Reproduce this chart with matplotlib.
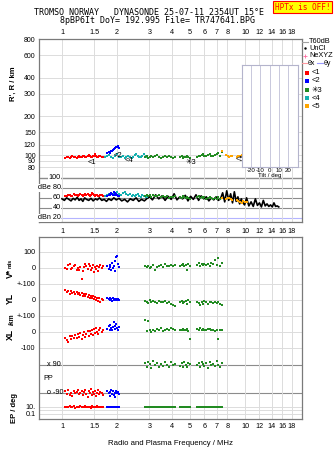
import matplotlib
matplotlib.use('Agg')
import matplotlib.pyplot as plt
import numpy as np

# ---- values ----
freq_ticks = [1, 1.5, 2, 3, 4, 5, 6, 7, 8, 10, 12, 14, 16, 18]
freq_labels = ['1', '1.5', '2', '3', '4', '5', '6', '7', '8', '10', '12', '14', '16', '18']
height_ticks = [80, 90, 100, 120, 150, 200, 300, 400, 600, 800]
db_ticks = [100, 80, 60, 40, 20]
db_labels = ['100', 'dBe 80', '60', '40', 'dBn 20']
tilt_ticks = [-20, -10, 0, 10, 20]

# echo group <1 (red)
red_f = [1.04, 1.06, 1.08, 1.10, 1.12, 1.14, 1.16, 1.18, 1.20, 1.22,
         1.24, 1.26, 1.28, 1.30, 1.32, 1.34, 1.36, 1.38, 1.40, 1.42,
         1.44, 1.46, 1.48, 1.50, 1.52, 1.54, 1.56, 1.58, 1.60, 1.62, 1.65, 1.68]
red_h = [94, 96, 97, 95, 96, 98, 97, 96, 95, 97, 98, 97, 96, 99, 98, 97, 96, 98, 100, 99,
         97, 96, 98, 99, 101, 98, 97, 96, 98, 99, 97, 96]
red_db = [63, 64, 66, 65, 63, 64, 67, 65, 66, 64, 65, 67, 66, 64, 65, 68, 66, 67, 65, 64,
          66, 69, 67, 65, 64, 66, 65, 63, 64, 66, 65, 63]
red_vs = [2, -5, 18, 25, -8, -3, 12, 20, -10, 0, -15, 8, -70, -20, 5, 28, 15, -6, 22, 10,
          -12, 3, 18, -25, 8, -4, 14, -18, 6, 20, -2, 10]
red_yl = [62, 48, 58, 40, 55, 45, 50, 38, 52, 35, 45, 30, 42, 28, 40, 22, 35, 18, 32, 15,
          28, 10, 25, 5, 20, 0, 15, -5, 12, -10, 5, -2]
red_xl = [-35, -50, -60, -28, -45, -22, -40, -18, -35, -12, -30, -8, -42, -20, -2, -32, -10, 5, -22, 8,
          -10, 12, -18, 18, -5, 22, 2, -12, 15, 25, -3, 10]
red_pp = [-80, -95, -70, -100, -88, -110, -75, -92, -85, -68, -98, -90, -78, -105, -86, -72, -95, -115, -80, -90,
          -65, -100, -84, -94, -76, -108, -88, -70, -96, -82, -90, -100]
red_ep = [10, 12, 8, 15, 9, 11, 20, 7, 13, 10, 9, 14, 11, 8, 12, 18, 10, 9, 13, 11,
          7, 15, 10, 12, 9, 11, 16, 8, 10, 13, 9, 11]

# echo group <2 (blue)
blue_f = [1.77, 1.80, 1.82, 1.84, 1.86, 1.88, 1.90, 1.92, 1.94, 1.96, 1.98, 2.00, 2.02, 2.05]
blue_h = [104, 105, 103, 106, 108, 107, 110, 112, 114, 113, 116, 115, 117, 114]
blue_db = [64, 66, 65, 67, 70, 68, 66, 72, 69, 65, 67, 66, 64, 63]
blue_vs = [10, -5, 20, 5, -15, 30, 0, 15, -20, 45, 70, 75, 25, 8]
blue_yl = [10, 5, 15, 0, 8, -5, 12, 2, 6, -3, 8, 0, 4, -2]
blue_xl = [20, 35, 10, 45, 25, 15, 30, 60, 40, 20, 50, 25, 10, 30]
blue_pp = [-75, -90, -110, -85, -70, -95, -80, -100, -88, -115, -78, -92, -85, -96]
blue_ep = [10, 9, 11, 10, 12, 9, 10, 11, 10, 9, 10, 11, 10, 9]

# echo group <4 (cyan) - heights and amplitude only
cyan_f = [1.72, 1.76, 1.80, 1.85, 1.90, 1.95, 2.00, 2.05, 2.10, 2.15,
          2.20, 2.25, 2.30, 2.35, 2.40, 2.45, 2.50, 2.55, 2.60, 2.65,
          2.70, 2.75, 2.80, 2.86, 2.92]
cyan_h = [96, 98, 100, 97, 95, 99, 101, 97, 96, 98, 95, 97, 99, 96, 94, 97, 100, 102, 98, 96,
          97, 99, 101, 98, 96]
cyan_db = [64, 66, 68, 70, 67, 69, 72, 68, 66, 70, 71, 67, 65, 68, 64, 66, 63, 65, 67, 64,
           62, 65, 63, 61, 62]

# echo group *3 (green)
green_f = [2.84, 2.90, 2.96, 3.02, 3.08, 3.15, 3.22, 3.30, 3.38, 3.46, 3.55, 3.65, 3.75, 3.85, 3.95, 4.05, 4.12,
           4.42, 4.50, 4.58, 4.66, 4.74, 4.82, 4.90, 4.98,
           5.50, 5.60, 5.70, 5.80, 5.90, 6.00, 6.12, 6.25, 6.40, 6.55, 6.70, 6.85, 7.00, 7.15, 7.30, 7.45]
green_h = [96, 98, 95, 97, 99, 96, 98, 100, 97, 95, 96, 98, 97, 99, 96, 95, 97,
           96, 98, 95, 97, 96, 98, 97, 95,
           97, 99, 98, 100, 101, 99, 98, 100, 102, 99, 98, 100, 101, 103, 99, 106]
green_db = [64, 66, 63, 65, 62, 66, 64, 63, 65, 61, 64, 62, 63, 60, 62, 61, 63,
            62, 60, 63, 61, 59, 62, 60, 58,
            61, 63, 60, 62, 59, 61, 58, 60, 62, 59, 57, 60, 58, 61, 57, 59]
green_vs = [10, 5, 15, 0, 8, 20, -15, 5, 12, 18, 8, 25, 15, 10, 20, 12, 18,
            15, 20, 25, 10, 18, -12, 22, 15,
            20, 30, 15, 25, 20, 28, 18, 22, 15, 30, 25, 48, 20, 65, 10, 30]
green_yl = [-5, -10, -20, 0, -15, -8, -12, -18, -5, -10, -15, -8, -20, -12, -25, -30, -40,
            -10, -5, -20, -15, -8, -25, -2, -12,
            -10, -20, -30, -15, -25, -5, -12, -28, -10, -15, -18, -12, -20, -15, -25, -30]
green_xl = [75, 5, 70, 10, 0, 15, 5, 20, 10, 25, 8, 15, 20, 12, 25, 18, 10,
            15, 10, 20, 15, 10, 20, 5, -42,
            20, 15, 25, 10, 20, 15, 10, 20, 18, 10, 15, 5, 12, -42, 10, 15]
green_pp = [100, 80, 110, 95, 70, 115, 88, 105, 75, 98, 85, 112, 92, 78, 108, 90, 96,
            85, 100, 75, 110, 92, 80, 105, 95,
            88, 102, 78, 110, 95, 85, 100, 72, 108, 90, 98, 82, 115, 92, 78, 105]
green_ep = [10, 9, 11, 10, 12, 9, 10, 11, 8, 10, 12, 9, 10, 11, 10, 9, 11,
            10, 11, 9, 10, 12, 10, 9, 10,
            10, 9, 11, 10, 10, 12, 9, 10, 11, 10, 9, 10, 11, 10, 12, 10]

# echo group <5 (orange)
orange_f = [7.45, 7.9, 8.05, 8.2, 8.35, 8.5, 9.0, 9.2, 9.4, 9.6, 9.8, 10.0, 10.2]
orange_h = [107, 100, 98, 97, 99, 98, 97, 99, 98, 100, 97, 99, 101]
orange_db = [60, 58, 60, 59, 57, 56, 55, 54, 52, 50, 53, 51, 52]

# receiver amplitude trace (black)
amp_f = [1.00, 1.03, 1.06, 1.09, 1.12, 1.15, 1.18, 1.21, 1.24, 1.27,
         1.30, 1.33, 1.36, 1.40, 1.44, 1.48, 1.52, 1.56, 1.60, 1.65,
         1.70, 1.75, 1.80, 1.86, 1.92, 1.98, 2.05, 2.12, 2.20, 2.28,
         2.36, 2.45, 2.54, 2.63, 2.72, 2.82, 2.92, 3.02, 3.12, 3.25,
         3.38, 3.52, 3.66, 3.80, 3.95, 4.10, 4.25, 4.40, 4.56, 4.72,
         4.88, 5.05, 5.22, 5.40, 5.58, 5.76, 5.95, 6.15, 6.35, 6.55,
         6.75, 6.95, 7.15, 7.35, 7.55, 7.75, 7.95, 8.15, 8.35, 8.55,
         8.75, 8.95, 9.15, 9.35, 9.55, 9.75, 9.95, 10.2, 10.5, 10.8,
         11.1, 11.4, 11.7, 12.0, 12.3, 12.6, 12.9, 13.2, 13.5, 13.8,
         14.1, 14.4, 14.7, 15.0, 15.3]
amp_db = [58, 55, 60, 57, 54, 59, 56, 61, 55, 58,
          53, 60, 57, 55, 59, 54, 58, 56, 60, 55,
          57, 53, 58, 55, 60, 56, 59, 54, 57, 52,
          58, 55, 60, 53, 57, 54, 59, 62, 56, 66,
          58, 64, 55, 63, 57, 68, 56, 62, 58, 65,
          54, 63, 57, 66, 55, 64, 58, 62, 54, 60,
          56, 62, 55, 58, 70, 52, 74, 55, 68, 50,
          72, 53, 62, 48, 58, 50, 46, 60, 44, 52,
          43, 58, 45, 50, 42, 55, 44, 48, 43, 46,
          42, 50, 43, 44, 42]

RED, BLUE, GREEN, CYAN, ORANGE = '#ff0000', '#0000ff', '#228b22', '#14b0b0', '#ffa500'
GRID = '#dcdcdc'
SPINE = '#7a7a7a'

W, H = 335, 451
plt.rcParams['font.family'] = ['Liberation Sans', 'DejaVu Sans']
plt.rcParams['font.size'] = 5.2
fig = plt.figure(figsize=(W / 100, H / 100), dpi=100)


def rect(x0, y0, x1, y1):
    # pixel box -> figure fraction
    return [x0 / W, 1 - y1 / H, (x1 - x0) / W, (y1 - y0) / H]


def freq_axis(ax):
    ax.set_xscale('log')
    ax.set_xlim(0.7485, 20.5)
    ax.set_xticks(freq_ticks, freq_labels)
    ax.xaxis.set_minor_locator(matplotlib.ticker.NullLocator())
    ax.grid(axis='x', color=GRID, lw=0.7)
    ax.tick_params(length=0, labelsize=5.2)
    for s in ax.spines.values():
        s.set_color(SPINE)
        s.set_linewidth(0.9)


def dots(ax, f, v, c):
    ax.plot(f, v, 's', ms=2.0, mew=0, color=c, zorder=3)


# ---- height panel ----
ax_h = fig.add_axes(rect(39, 39, 302, 172))
freq_axis(ax_h)
ax_h.set_yscale('log')
ax_h.set_ylim(73.8, 800)
ax_h.set_yticks(height_ticks, [str(t) for t in height_ticks])
ax_h.yaxis.set_minor_locator(matplotlib.ticker.NullLocator())
ax_h.grid(axis='y', color=GRID, lw=0.7)
ax_h.xaxis.tick_top()
ax_h.tick_params(axis='x', pad=2)
ax_h.tick_params(axis='y', pad=2.4, labelsize=5.0)
ax_h.spines['bottom'].set_visible(False)
dots(ax_h, red_f, red_h, RED)
dots(ax_h, cyan_f, cyan_h, CYAN)
dots(ax_h, green_f, green_h, GREEN)
dots(ax_h, orange_f, orange_h, ORANGE)
dots(ax_h, blue_f, blue_h, BLUE)
for txt, f, h in [('<1', 1.45, 87), ('<2', 2.03, 100), ('<4', 2.31, 90),
                  ('\u2733' + '3', 5.07, 88), ('<5', 9.33, 93)]:
    ax_h.text(f, h, txt, ha='center', va='center', fontsize=5.5, zorder=4)

# ---- amplitude panel ----
ax_db = fig.add_axes(rect(39, 172, 302, 222))
freq_axis(ax_db)
ax_db.set_ylim(12.06, 111.3)
ax_db.set_yticks([])
ax_db.spines['top'].set_visible(False)
ax_db.tick_params(axis='x', pad=4)
for v, lab in zip(db_ticks, db_labels):
    col = '#b4b4ff' if v == 20 else '#8c8c8c'
    ax_db.axhline(v, color=col, lw=1.0 if v == 100 else 0.8, zorder=1)
    ax_db.text(0.985, v, lab, ha='right', va='center', fontsize=5.2, zorder=5,
               bbox=dict(facecolor='white', edgecolor='none', pad=0.3))
ax_db.plot(amp_f, amp_db, color='black', lw=1.2, zorder=2)
dots(ax_db, red_f, red_db, RED)
dots(ax_db, cyan_f, cyan_db, CYAN)
dots(ax_db, blue_f, blue_db, BLUE)
dots(ax_db, green_f, green_db, GREEN)
dots(ax_db, orange_f, orange_db, ORANGE)

# ---- V*, YL, XL, PP, EP stack ----
YL_OFF, XL_OFF = -200, -400
PP_MID, PP_SCALE = -693.75, 0.9722
EP_TEN, EP_DEC = -868.75, 21.875


def pp_y(d):
    return PP_MID + np.asarray(d) * PP_SCALE


def ep_y(e):
    return EP_TEN + (np.log10(e) - 1) * EP_DEC


ax_lo = fig.add_axes(rect(39, 236.7, 302, 419))
freq_axis(ax_lo)
ax_lo.set_ylim(-943.75, 195.6)
lo_ticks = [100, 0, -100, -200, -300, -400, -500, ep_y(10), ep_y(0.1)]
lo_labels = ['100', '0', '+-100', '0', '+-100', '0', '-100', '10.', '0.1']
ax_lo.set_yticks(lo_ticks, lo_labels)
ax_lo.tick_params(axis='x', pad=3.2)
ax_lo.tick_params(axis='y', pad=2.4)
for y in [100, 0, -100, -200, -300, -400, -500, ep_y(10), ep_y(1), ep_y(0.1)]:
    ax_lo.axhline(y, color=GRID, lw=0.7, zorder=1)
for d in [90, -90]:
    ax_lo.axhline(pp_y(d), color='#8c8c8c', lw=0.8, zorder=1)
ax_lo.text(0.828, pp_y(90), 'x 90', ha='left', va='center', fontsize=5.2)
ax_lo.text(0.787, pp_y(0), 'PP', ha='left', va='center', fontsize=5.2)
ax_lo.text(0.828, pp_y(-90), 'o -90', ha='left', va='center', fontsize=5.2)
for f, vs, yl, xl, pp, ep, c in [
        (red_f, red_vs, red_yl, red_xl, red_pp, red_ep, RED),
        (blue_f, blue_vs, blue_yl, blue_xl, blue_pp, blue_ep, BLUE),
        (green_f, green_vs, green_yl, green_xl, green_pp, green_ep, GREEN)]:
    dots(ax_lo, f, vs, c)
    dots(ax_lo, f, np.array(yl) + YL_OFF, c)
    dots(ax_lo, f, np.array(xl) + XL_OFF, c)
    dots(ax_lo, f, pp_y(pp), c)
    dots(ax_lo, f, ep_y(ep), c)
ax_lo.set_xlabel('Radio and Plasma Frequency / MHz', fontsize=5.6, labelpad=7)

# ---- tilt inset ----
ax_t = fig.add_axes(rect(241.7, 65, 297.7, 166.7))
ax_t.set_xlim(-30, 30)
ax_t.set_xticks(tilt_ticks, [str(t) for t in tilt_ticks])
ax_t.set_yticks([])
ax_t.grid(axis='x', color='#c8c8dc', lw=0.7)
ax_t.tick_params(length=0, labelsize=4.4, pad=1)
ax_t.set_xlabel('Tilt / deg', fontsize=4.4, labelpad=0)
for s in ax_t.spines.values():
    s.set_color('#b4b4cc')
    s.set_linewidth(0.8)

# ---- overlay for titles, legend and side labels (pixel coords) ----
ov = fig.add_axes([0, 0, 1, 1])
ov.set_xlim(0, W)
ov.set_ylim(H, 0)
ov.axis('off')
mono = 'DejaVu Sans Mono'
ov.text(149.5, 12.7, 'TROMSO NORWAY   DYNASONDE 25-07-11 2354UT 15\u00b0E',
        ha='center', va='center', family=mono, fontsize=6.0)
ov.text(157.5, 20.7, '8pBP6It DoY= 192.995 File= TR747641.BPG',
        ha='center', va='center', family=mono, fontsize=6.0)
ov.text(302.5, 7, 'HPTx is OFF!', ha='center', va='center', family=mono, fontsize=5.6,
        color='red', bbox=dict(facecolor='#ffff00', edgecolor='red', lw=0.8, pad=1.0))

# legend
ov.plot([302, 308], [41.7, 41.7], color='#a0a0a0', lw=0.8)
ov.text(309, 41.7, 'T60dB', va='center', fontsize=5.3)
ov.plot([305], [48.3], '.', ms=1.5, color='black')
ov.text(309, 48.3, 'UnCl', va='center', fontsize=5.3)
ov.plot([305], [55.7], '+', ms=3.5, mew=0.6, color='#ff6aa0')
ov.text(309, 55.7, 'NeXYZ', va='center', fontsize=5.3)
ov.plot([302, 307], [63.3, 63.3], color='#ff9aa0', lw=0.8)
ov.text(307.5, 63.3, '\u03b8x', va='center', fontsize=5.0)
ov.plot([317, 323], [63.3, 63.3], color='#9a9aff', lw=0.8)
ov.text(323.5, 63.3, '\u03b8y', va='center', fontsize=5.0)
for y, c, lab in [(72.7, RED, '<1'), (81, BLUE, '<2'), (90, GREEN, '\u2733' + '3'),
                  (98.3, CYAN, '<4'), (106.3, ORANGE, '<5')]:
    ov.plot([306.7], [y], 's', ms=2.5, mew=0, color=c)
    ov.text(312, y, lab, va='center', fontsize=5.5)

# side labels
ov.text(13, 84, "R', R / km", rotation=90, ha='center', va='center', fontsize=5.5, weight='bold')
ov.text(10, 273, 'V*', rotation=90, ha='center', va='center', fontsize=6.2, weight='bold')
ov.text(10.5, 263, 'm/s', rotation=90, ha='center', va='center', fontsize=3.8, weight='bold')
ov.text(10, 298, 'YL', rotation=90, ha='center', va='center', fontsize=6.2, weight='bold')
ov.text(12, 319, '/km', rotation=90, ha='center', va='center', fontsize=4.8, weight='bold')
ov.text(10, 334, 'XL', rotation=90, ha='center', va='center', fontsize=6.2, weight='bold')
ov.text(14, 408, 'EP / deg', rotation=90, ha='center', va='center', fontsize=5.5, weight='bold')

fig.savefig('out.png', dpi=100)
